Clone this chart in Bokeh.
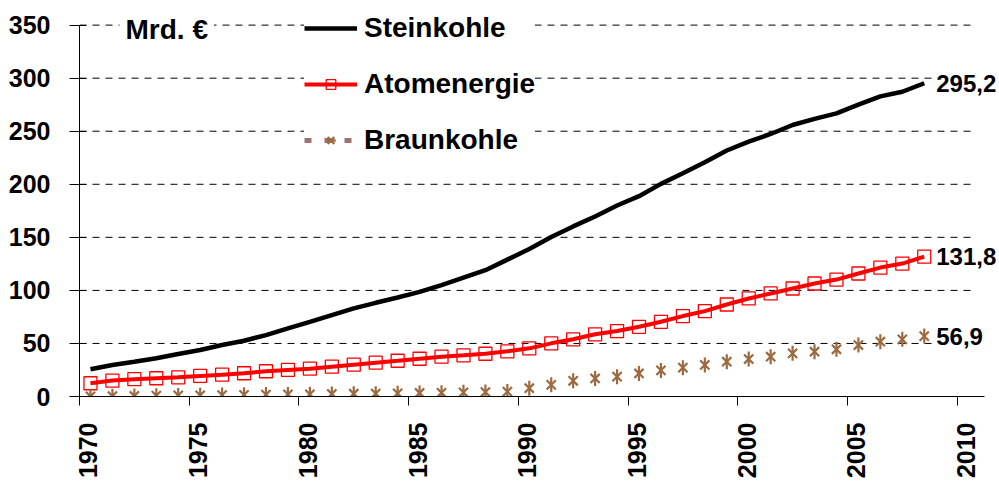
import math
from bokeh.plotting import figure
from bokeh.models import (ColumnDataSource, Legend, LegendItem, Label,
                          FixedTicker, Range1d, LinearAxis)
from bokeh.embed import file_html
from bokeh.resources import INLINE

years = list(range(1970, 2009))
steinkohle = [25.7, 29.7, 32.8, 36.0, 40.0, 43.8, 48.5, 52.5, 57.9, 64.2,
              70.4, 76.7, 83.0, 88.3, 93.3, 98.6, 104.9, 112.0, 119.0, 129.0,
              139.0, 150.3, 160.3, 169.7, 180.0, 188.8, 200.4, 210.4, 220.8, 231.8,
              240.2, 247.4, 255.9, 261.6, 266.8, 275.0, 282.8, 287.2, 295.2]
atomenergie = [12.5, 15.0, 16.3, 17.2, 18.1, 19.4, 20.6, 21.9, 23.8, 25.0,
               26.2, 28.1, 30.0, 31.9, 33.7, 35.6, 37.5, 38.8, 40.3, 42.6,
               45.4, 50.1, 53.9, 58.6, 61.7, 65.7, 70.4, 75.8, 80.5, 86.7,
               92.4, 97.1, 101.8, 106.5, 110.2, 115.9, 121.5, 125.3, 131.8]
braunkohle = [0.2, 0.3, 0.5, 0.8, 1.0, 1.1, 1.3, 1.6, 1.8, 2.0,
              2.1, 2.4, 2.6, 2.7, 3.0, 3.3, 3.5, 3.9, 4.2, 4.6,
              7.8, 11.0, 14.8, 17.0, 18.7, 21.7, 24.6, 27.2, 29.7, 32.8,
              35.3, 37.5, 40.7, 42.2, 44.5, 48.5, 51.6, 53.9, 56.9]
series_names = ["Steinkohle", "Atomenergie", "Braunkohle"]
x_ticks = [1970, 1975, 1980, 1985, 1990, 1995, 2000, 2005, 2010]
y_ticks = [0, 50, 100, 150, 200, 250, 300, 350]
unit_label = "Mrd. €"

FONT = "Liberation Sans"
xs = [y + 0.5 for y in years]
src = ColumnDataSource(dict(x=xs, stein=steinkohle, atom=atomenergie, braun=braunkohle))

X_START, X_END = 1970, 2011.93
GRID_END = 2010.7
p = figure(width=999, height=481, output_backend="svg", toolbar_location=None,
           x_range=Range1d(X_START, X_END), y_range=Range1d(0, 373.2),
           min_border_left=79, min_border_right=0, min_border_top=0, min_border_bottom=84)
p.outline_line_color = None
p.background_fill_color = "white"
p.border_fill_color = "white"
# shifted copy of the x range, only used to place the rotated year labels
p.extra_x_ranges = {"lab": Range1d(X_START - 0.41, X_END - 0.41)}

# dashed horizontal gridlines that stop short of the right edge
p.xgrid.grid_line_color = None
p.ygrid.grid_line_color = None
grid_src = ColumnDataSource(dict(y=y_ticks[1:],
                                 x0=[X_START] * len(y_ticks[1:]),
                                 x1=[GRID_END] * len(y_ticks[1:])))
p.segment(x0="x0", x1="x1", y0="y", y1="y", source=grid_src,
          line_color="black", line_width=1, line_dash="7 6")

# axes
p.xaxis.ticker = FixedTicker(ticks=x_ticks)
p.yaxis.ticker = FixedTicker(ticks=y_ticks)
p.xaxis.bounds = (1970, 2011.25)
p.yaxis.bounds = (0, 350)
for ax in (p.xaxis, p.yaxis):
    ax.axis_line_color = "black"
    ax.axis_line_width = 1
    ax.major_tick_line_color = "black"
    ax.minor_tick_line_color = None
    ax.major_label_text_font = FONT
    ax.major_label_text_font_style = "bold"
    ax.major_label_text_color = "black"
p.yaxis.major_label_text_font_size = "25px"
p.yaxis.major_tick_out = 10
p.yaxis.major_tick_in = 7
p.yaxis.major_label_standoff = 19
p.xaxis.major_tick_out = 9
p.xaxis.major_tick_in = 0
p.xaxis.major_label_standoff = 0
p.xaxis.major_label_text_font_size = "1px"
p.xaxis.major_label_text_alpha = 0

lab_axis = LinearAxis(x_range_name="lab", ticker=FixedTicker(ticks=x_ticks),
                      axis_line_color=None, major_tick_line_color=None,
                      minor_tick_line_color=None, major_tick_in=0, major_tick_out=0,
                      major_label_orientation=math.pi / 2, major_label_standoff=17,
                      major_label_text_font=FONT, major_label_text_font_style="bold",
                      major_label_text_font_size="25px", major_label_text_color="black")
p.add_layout(lab_axis, "below")

# series
r_stein = p.line("x", "stein", source=src, line_color="black", line_width=4.5)
r_atom = p.line("x", "atom", source=src, line_color="#FF0000", line_width=4)
r_atom_m = p.scatter("x", "atom", source=src, marker="square", size=13,
                     line_color="#FF0000", line_width=1.3, fill_color=None)
BROWN = "#9C6A40"
r_braun_x = p.scatter("x", "braun", source=src, marker="x", size=13,
                      line_color=BROWN, line_width=2.2)
r_braun_d = p.scatter("x", "braun", source=src, marker="dash", size=15, angle=math.pi / 2,
                      line_color=BROWN, line_width=2.2)
r_braun_leg = p.line(x=[float("nan")], y=[float("nan")], line_color="#A07070",
                     line_width=5, line_dash="7 13")

legend = Legend(items=[
    LegendItem(label=series_names[0], renderers=[r_stein]),
    LegendItem(label=series_names[1], renderers=[r_atom, r_atom_m]),
    LegendItem(label=series_names[2], renderers=[r_braun_leg, r_braun_x, r_braun_d]),
], location=(225, 240), orientation="vertical")
legend.label_text_font = FONT
legend.label_text_font_style = "bold"
legend.label_text_font_size = "28px"
legend.label_text_color = "black"
legend.glyph_width = 53
legend.glyph_height = 24
legend.label_height = 24
legend.label_standoff = 7
legend.spacing = 24
legend.padding = 16
legend.margin = 0
legend.border_line_color = None
legend.background_fill_color = "white"
legend.background_fill_alpha = 1
p.add_layout(legend, "center")

# end value labels
fmt = lambda v: f"{v:.1f}".replace(".", ",")
for series in (steinkohle, atomenergie, braunkohle):
    p.add_layout(Label(x=xs[-1], y=series[-1], text=fmt(series[-1]), x_offset=9,
                       text_baseline="middle", text_align="left",
                       text_font=FONT, text_font_style="bold", text_font_size="24px",
                       text_color="black", background_fill_color="white", padding=3))

unit = Label(x=40, y=367, x_units="screen", y_units="screen", text=unit_label,
             text_baseline="middle", text_font=FONT, text_font_style="bold",
             text_font_size="28px", text_color="black",
             background_fill_color="white", padding=6)
p.add_layout(unit)

open("out.html", "w").write(file_html(p, INLINE))
